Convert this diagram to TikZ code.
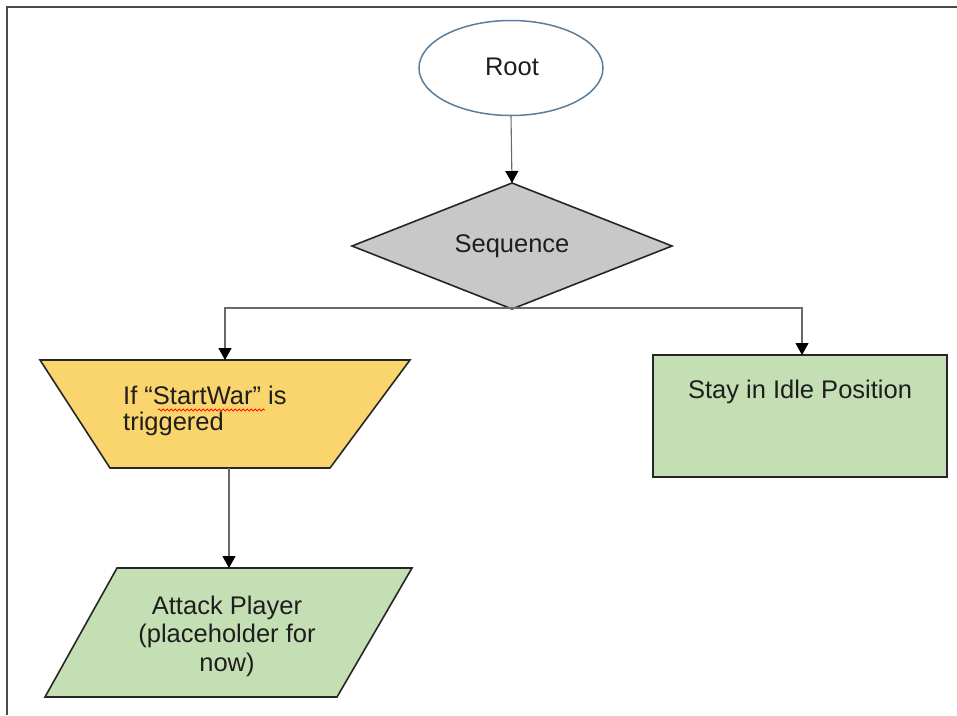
\documentclass[tikz,border=0pt]{standalone}
\usepackage{fontspec}
\setmainfont{Liberation Sans}
\usetikzlibrary{arrows.meta,decorations.pathmorphing}
\definecolor{framegray}{HTML}{4A4A4A}
\definecolor{rootblue}{HTML}{5B7E9C}
\definecolor{seqgray}{HTML}{C8C8C8}
\definecolor{condyellow}{HTML}{FAD46C}
\definecolor{actgreen}{HTML}{C5DFB4}
\definecolor{txt}{HTML}{1E1E1E}
\definecolor{conngray}{HTML}{6A6A6A}
\tikzset{
  shapeline/.style={draw=black!85, line width=1.6pt, line join=miter},
  conn/.style={draw=conngray, line width=1.1pt, -{Triangle[length=12pt,width=13pt,fill=black,color=black]}},
  lbl/.style={text=txt, inner sep=0pt, font=\fontsize{25.5}{27}\selectfont},
}
\begin{document}
\begin{tikzpicture}[x=1pt,y=-1pt]
\useasboundingbox (0,0) rectangle (957,715);
\fill[white] (0,0) rectangle (957,715);
% frame
\draw[framegray, line width=2pt] (7,715) -- (7,7) -- (957,7);

% Root
\draw[rootblue, line width=1.5pt, fill=white] (511,68) ellipse [x radius=92, y radius=47.5];
\node[lbl] (root) at (512,67) {Root};
\coordinate (rootB) at (511,115.5);

% Sequence diamond
\draw[shapeline, fill=seqgray] (512,183) -- (672,246) -- (512,309) -- (352,246) -- cycle;
\node[lbl] (seq) at (512,246) {Sequence};
\coordinate (seqT) at (512,183);
\coordinate (seqB) at (512,308);

% condition trapezoid
\draw[shapeline, fill=condyellow] (40,360) -- (410,360) -- (330,468) -- (110,468) -- cycle;
\node[lbl, anchor=west, align=left, font=\fontsize{25.5}{26}\selectfont] (cond) at (123,411) {If “StartWar” is\\triggered};
\draw[red!85!orange, line width=0.8pt, decorate, decoration={snake, amplitude=1pt, segment length=4pt}] (158,410) -- (265,410);
\coordinate (condT) at (225,360);
\coordinate (condB) at (229,468);

% idle rectangle
\draw[shapeline, fill=actgreen] (653,355) rectangle (947,477);
\node[lbl] (idle) at (800,392) {Stay in Idle Position};
\coordinate (idleT) at (802,355);

% attack parallelogram
\draw[shapeline, fill=actgreen] (117,568) -- (412,568) -- (337,697) -- (45,697) -- cycle;
\node[lbl, align=center, font=\fontsize{25.5}{28.5}\selectfont] (attack) at (227,636) {Attack Player\\(placeholder for\\now)};
\coordinate (attackT) at (229,568);

% connectors
\draw[conn] (rootB) -- (seqT);
\draw[conn] (seqB) -| (condT);
\draw[conn] (seqB) -| (idleT);
\draw[conn] (condB) -- (attackT);
\end{tikzpicture}
\end{document}
